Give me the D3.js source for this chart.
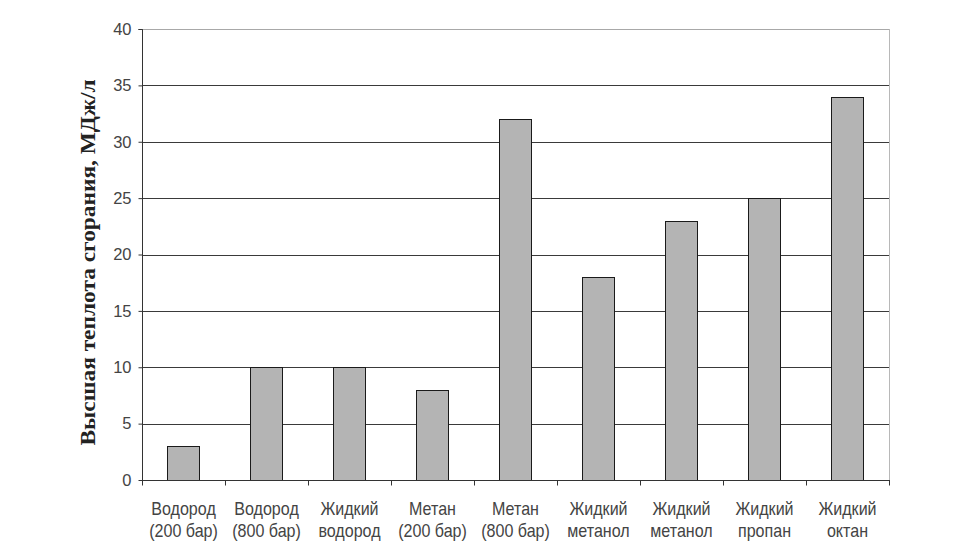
<!DOCTYPE html>
<html>
<head>
<meta charset="utf-8">
<script src="https://cdn.jsdelivr.net/npm/d3@7"></script>
<style>
  html, body { margin: 0; padding: 0; background: #fff; }
  svg { display: block; }
</style>
</head>
<body>
<svg id="chart" width="980" height="560"></svg>
<script>
const categories = [
  ["Водород", "(200 бар)"],
  ["Водород", "(800 бар)"],
  ["Жидкий", "водород"],
  ["Метан", "(200 бар)"],
  ["Метан", "(800 бар)"],
  ["Жидкий", "метанол"],
  ["Жидкий", "метанол"],
  ["Жидкий", "пропан"],
  ["Жидкий", "октан"]
];
const values = [3, 10, 10, 8, 32, 18, 23, 25, 34];
const yTicks = [0, 5, 10, 15, 20, 25, 30, 35, 40];
const yTitle = "Высшая теплота сгорания, МДж/л";

const svg = d3.select("#chart");
const pL = 142, pR = 889, pT = 29, pB = 480;

const x = d3.scaleBand().domain(d3.range(categories.length)).range([pL, pR]).paddingInner(0.614).paddingOuter(0.307);
const xb = d3.scaleBand().domain(d3.range(categories.length)).range([pL, pR]);
const y = d3.scaleLinear().domain([0, 40]).range([pB, pT]);

// gridlines
svg.append("g").selectAll("line").data(yTicks.filter(t => t > 0 && t < 40)).join("line")
  .attr("x1", pL).attr("x2", pR)
  .attr("y1", d => Math.round(y(d)) + 0.5).attr("y2", d => Math.round(y(d)) + 0.5)
  .attr("stroke", "#3a3a3a").attr("stroke-width", 1);

// plot border (top and right)
svg.append("line").attr("x1", pL).attr("x2", pR + 0.5).attr("y1", pT + 0.5).attr("y2", pT + 0.5)
  .attr("stroke", "#a8a8a8");
svg.append("line").attr("x1", pR + 0.5).attr("x2", pR + 0.5).attr("y1", pT).attr("y2", pB)
  .attr("stroke", "#b8b8b8");

// bars
svg.append("g").selectAll("rect").data(values).join("rect")
  .attr("x", (d, i) => Math.round(x(i)) + 0.5)
  .attr("y", d => Math.round(y(d)) + 0.5)
  .attr("width", Math.round(x.bandwidth()))
  .attr("height", d => Math.round(y(0)) - Math.round(y(d)))
  .attr("fill", "#b4b4b4").attr("stroke", "#1a1a1a").attr("stroke-width", 1);

// y axis
const yAxis = d3.axisLeft(y).tickValues(yTicks).tickSize(4).tickPadding(7);
const gy = svg.append("g").attr("transform", `translate(${pL + 0.5},0)`).call(yAxis);
gy.select(".domain").attr("stroke", "#333").attr("d", `M-4,${pT + 0.5}H0V${pB + 0.5}`);
gy.selectAll(".tick line").attr("stroke", "#333");
gy.selectAll(".tick text").attr("fill", "#444").attr("font-family", "Liberation Sans, Arial, sans-serif").attr("font-size", 16.5);

// x axis
const gx = svg.append("g").attr("transform", `translate(0,${pB + 0.5})`);
gx.append("line").attr("x1", pL).attr("x2", pR + 1).attr("y1", 0).attr("y2", 0).attr("stroke", "#333");
gx.selectAll("line.t").data(d3.range(categories.length + 1)).join("line").attr("class", "t")
  .attr("x1", i => Math.round(pL + i * xb.step()) + 0.5)
  .attr("x2", i => Math.round(pL + i * xb.step()) + 0.5)
  .attr("y1", 0).attr("y2", 5).attr("stroke", "#333");
const labels = gx.selectAll("text").data(categories).join("text")
  .attr("text-anchor", "middle")
  .attr("font-family", "Liberation Sans, Arial, sans-serif").attr("font-size", 17.5)
  .attr("fill", "#444")
  .attr("transform", (d, i) => `translate(${xb(i) + xb.bandwidth() / 2},0) scale(0.92,1)`);
labels.each(function(d, i) {
  const t = d3.select(this);
  t.append("tspan").attr("x", 0).attr("y", 35).text(d[0]);
  t.append("tspan").attr("x", 0).attr("y", 57).text(d[1]);
});

// y title
svg.append("text")
  .attr("transform", `translate(95,${(pT + pB) / 2 + 8}) rotate(-90)`)
  .attr("text-anchor", "middle")
  .attr("font-family", "Liberation Serif, Times New Roman, serif")
  .attr("font-weight", "bold").attr("font-size", 20)
  .attr("fill", "#222")
  .attr("textLength", 366).attr("lengthAdjust", "spacingAndGlyphs")
  .text(yTitle);
</script>
</body>
</html>
